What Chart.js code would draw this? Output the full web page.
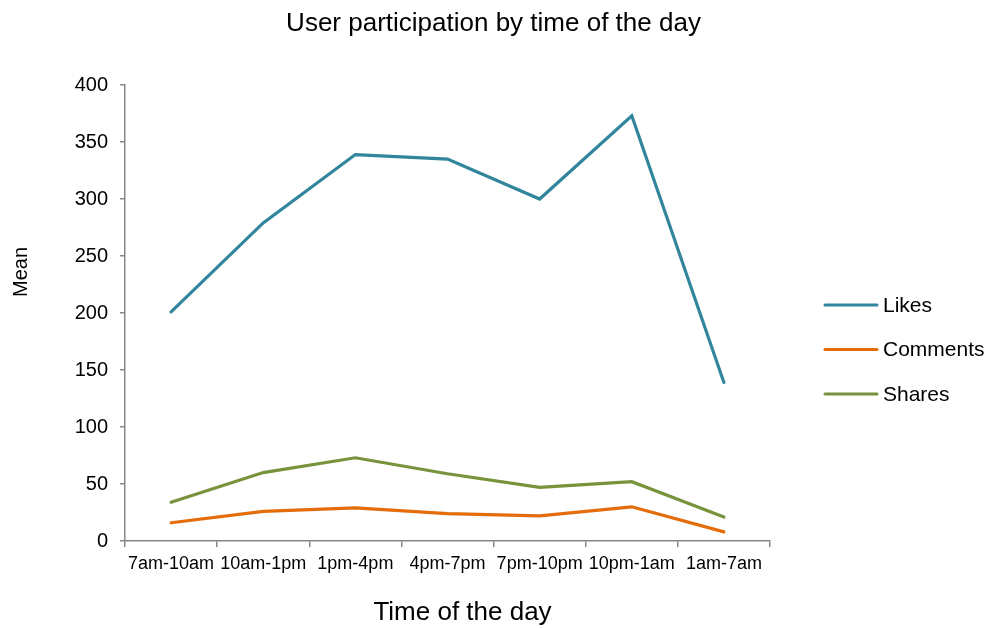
<!DOCTYPE html>
<html>
<head>
<meta charset="utf-8">
<script src="https://cdn.jsdelivr.net/npm/chart.js@4.4.1/dist/chart.umd.min.js"></script>
<style>
  html, body { margin: 0; padding: 0; background: #ffffff; }
  #wrap { width: 987px; height: 628px; position: relative; }
</style>
</head>
<body>
<div id="wrap"><canvas id="c" width="987" height="628"></canvas></div>
<script>
const categories = ["7am-10am", "10am-1pm", "1pm-4pm", "4pm-7pm", "7pm-10pm", "10pm-1am", "1am-7am"];
const likes    = [201, 279, 339, 335, 300, 373, 139];
const comments = [16, 26, 29, 24, 22, 30, 8];
const shares   = [34, 60, 73, 59, 47, 52, 21];
const seriesNames = ["Likes", "Comments", "Shares"];
const chartTitle = "User participation by time of the day";
const xTitle = "Time of the day";
const yTitle = "Mean";

const FONT = "'Liberation Sans', Arial, sans-serif";
const AXIS = "#868686";

const sideLegend = {
  id: 'sideLegend',
  afterDraw(chart) {
    const ctx = chart.ctx;
    const ca = chart.chartArea;
    const x0 = ca.right + 55;
    const startY = 305;
    const gap = 44.5;
    ctx.save();
    chart.data.datasets.forEach((ds, i) => {
      const y = startY + i * gap;
      ctx.strokeStyle = ds.borderColor;
      ctx.lineWidth = 3;
      ctx.lineCap = 'round';
      ctx.beginPath();
      ctx.moveTo(x0, y);
      ctx.lineTo(x0 + 52, y);
      ctx.stroke();
      ctx.fillStyle = '#000';
      ctx.font = "21px " + FONT;
      ctx.textAlign = 'left';
      ctx.textBaseline = 'middle';
      ctx.fillText(ds.label, x0 + 58, y + 1);
    });
    ctx.restore();
  }
};

const axisTitles = {
  id: 'axisTitles',
  afterDraw(chart) {
    const ctx = chart.ctx;
    const ca = chart.chartArea;
    ctx.save();
    ctx.fillStyle = '#000';
    ctx.font = "26px " + FONT;
    ctx.textAlign = 'center';
    ctx.textBaseline = 'middle';
    ctx.fillText(xTitle, (ca.left + ca.right) / 2 + 15, 613);
    ctx.translate(21, (ca.top + ca.bottom) / 2 - 41);
    ctx.rotate(-Math.PI / 2);
    ctx.font = "20px " + FONT;
    ctx.fillText(yTitle, 0, 0);
    ctx.restore();
  }
};

new Chart(document.getElementById('c'), {
  type: 'line',
  data: {
    labels: categories,
    datasets: [
      { label: seriesNames[0], data: likes,    borderColor: '#31859C', backgroundColor: '#31859C' },
      { label: seriesNames[1], data: comments, borderColor: '#E46C0A', backgroundColor: '#E46C0A' },
      { label: seriesNames[2], data: shares,   borderColor: '#77933C', backgroundColor: '#77933C' }
    ]
  },
  options: {
    responsive: false,
    animation: false,
    devicePixelRatio: 1,
    layout: { padding: { left: 0, right: 0, top: 0, bottom: 0 } },
    elements: {
      line: { borderWidth: 3.2, tension: 0, borderCapStyle: 'round', borderJoinStyle: 'miter' },
      point: { radius: 0, hoverRadius: 0 }
    },
    plugins: {
      legend: { display: false },
      tooltip: { enabled: false },
      title: {
        display: true,
        text: chartTitle,
        color: '#000',
        font: { family: FONT, size: 26, weight: 'normal' },
        padding: { top: 8, bottom: 45.8 }
      }
    },
    scales: {
      x: {
        type: 'category',
        offset: true,
        grid: { offset: true, drawOnChartArea: false, drawTicks: true, tickLength: 6, color: AXIS, lineWidth: 1.5 },
        border: { display: true, color: AXIS, width: 1.5 },
        ticks: { color: '#000', font: { family: FONT, size: 18 }, padding: 6, maxRotation: 0, autoSkip: false },
        afterFit(scale) { scale.height = 87; }
      },
      y: {
        min: 0, max: 400,
        grid: { drawOnChartArea: false, drawTicks: true, tickLength: 5, color: AXIS, lineWidth: 1.5 },
        border: { display: true, color: AXIS, width: 1.5 },
        ticks: { stepSize: 50, color: '#000', font: { family: FONT, size: 20 }, padding: 12 },
        afterFit(scale) { scale.width = 125; }
      },
      legendSpace: {
        type: 'linear',
        position: 'right',
        display: true,
        grid: { display: false, drawTicks: false },
        border: { display: false },
        ticks: { display: false },
        afterFit(scale) { scale.width = 217; }
      }
    }
  },
  plugins: [sideLegend, axisTitles]
});
</script>
</body>
</html>
